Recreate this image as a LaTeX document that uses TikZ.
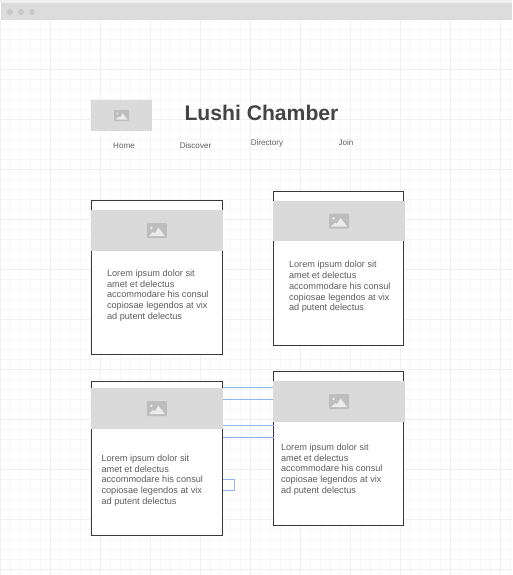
\documentclass[tikz,border=0pt]{standalone}
\usepackage{fontspec}
\setmainfont{Liberation Sans}
\definecolor{gridminor}{HTML}{F7F7F7}
\definecolor{gridmajor}{HTML}{F0F0F0}
\definecolor{chrome}{HTML}{DCDCDC}
\definecolor{chrometop}{HTML}{EFEFEF}
\definecolor{chromedot}{HTML}{C8C8C8}
\definecolor{band}{HTML}{DADADA}
\definecolor{iconfill}{HTML}{BDBDBD}
\definecolor{iconmark}{HTML}{ECECEC}
\definecolor{linkblue}{HTML}{8FB4F0}
\definecolor{bodytext}{HTML}{5E5E5E}
\definecolor{titletext}{HTML}{444444}
\tikzset{
  x=1pt,y=-1pt,
  cardbox/.style={draw=black!78,line width=1pt,fill=white,minimum width=131pt,minimum height=154pt,inner sep=0pt,outer sep=0pt},
  bandbox/.style={fill=band,inner sep=0pt,outer sep=0pt,minimum width=131.5pt,minimum height=41pt},
  headbox/.style={fill=band,inner sep=0pt,outer sep=0pt,minimum width=61pt,minimum height=31pt},
  navtext/.style={font=\fontsize{8.1}{10}\selectfont,text=bodytext,inner sep=0pt},
  titlestyle/.style={font=\fontsize{21.15}{25}\bfseries\selectfont,text=titletext,inner sep=0pt},
  bodystyle/.style={font=\fontsize{9.18}{10.8}\selectfont,text=bodytext,inner sep=0pt,outer sep=0pt,anchor=north west,align=left},
  linkline/.style={draw=linkblue,line width=0.8pt},
  imgicon/.pic={
    \fill[iconfill,rounded corners=1pt] (-10,-7.5) rectangle (10,7.5);
    \fill[iconmark] (-5.5,-2.6) circle (1.4);
    \fill[iconmark] (-8,5.5) -- (-4,1.6) -- (-2,2.8) -- (1.5,-3) -- (8,5.5) -- cycle;
  }
}
\newcommand{\loremtext}{Lorem ipsum dolor sit\\amet et delectus\\accommodare his consul\\copiosae legendos at vix\\ad putent delectus}
\begin{document}
\begin{tikzpicture}
\useasboundingbox (0,0) rectangle (512,575);
\fill[white] (0,0) rectangle (512,575);
% grid
\foreach \gx in {10,20,...,510}{\draw[gridminor,line width=0.7pt] (\gx+0.5,20) -- (\gx+0.5,575);}
\foreach \gy in {29,39,...,569}{\draw[gridminor,line width=0.7pt] (0,\gy+0.5) -- (512,\gy+0.5);}
\foreach \gx in {0,50,...,500}{\draw[gridmajor,line width=0.8pt] (\gx+0.5,20) -- (\gx+0.5,575);}
\foreach \gy in {19,69,...,569}{\draw[gridmajor,line width=0.8pt] (0,\gy+0.5) -- (512,\gy+0.5);}
% window chrome
\fill[chrometop] (0,0) rectangle (512,3.5);
\fill[chrome] (1,3.5) rectangle (512,20);
\foreach \dx in {10,21,32}{\fill[chromedot] (\dx,12) circle (3);}
% header
\node[headbox] (logo) at (121.5,115.5) {};
\pic[scale=0.75] at (logo.center) {imgicon};
\node[titlestyle] (title) at (261.5,113) {Lushi Chamber};
\node[navtext] (home) at (124,145.5) {Home};
\node[navtext] (discover) at (195.5,145.5) {Discover};
\node[navtext] (directory) at (267,143.5) {Directory};
\node[navtext] (join) at (346,142.5) {Join};
% cards
\node[cardbox] (card1) at (157,277.5) {};
\node[cardbox,minimum width=130pt] (card2) at (338.5,268.5) {};
\node[cardbox] (card3) at (157,458.5) {};
\node[cardbox,minimum width=130pt] (card4) at (338.5,448.5) {};
% link lines and small box
\coordinate (la) at (0,387.5);
\coordinate (lb) at (0,399.5);
\coordinate (lc) at (0,425.5);
\coordinate (ld) at (0,437.5);
\draw[linkline] (card3.east |- la) -- (card4.west |- la);
\draw[linkline] (card3.east |- lb) -- (card4.west |- lb);
\draw[linkline] (card3.east |- lc) -- (card4.west |- lc);
\draw[linkline] (card3.east |- ld) -- (card4.west |- ld);
\draw[linkline] (card3.east |- 0,479.5) -- (234.5,479.5) -- (234.5,490.5) -- (card3.east |- 0,490.5);
% image bands
\node[bandbox] (band1) at (156.9,230.5) {};
\node[bandbox,minimum height=40pt] (band2) at (339,221) {};
\node[bandbox] (band3) at (156.9,408.5) {};
\node[bandbox] (band4) at (339,401.5) {};
\pic at (band1.center) {imgicon};
\pic at (band2.center) {imgicon};
\pic at (band3.center) {imgicon};
\pic at (band4.center) {imgicon};
% body text
\node[bodystyle] (text1) at (107,269.6) {\loremtext};
\node[bodystyle] (text2) at (289,261.1) {\loremtext};
\node[bodystyle] (text3) at (101.5,454.6) {\loremtext};
\node[bodystyle] (text4) at (281,443.6) {\loremtext};
\end{tikzpicture}
\end{document}
